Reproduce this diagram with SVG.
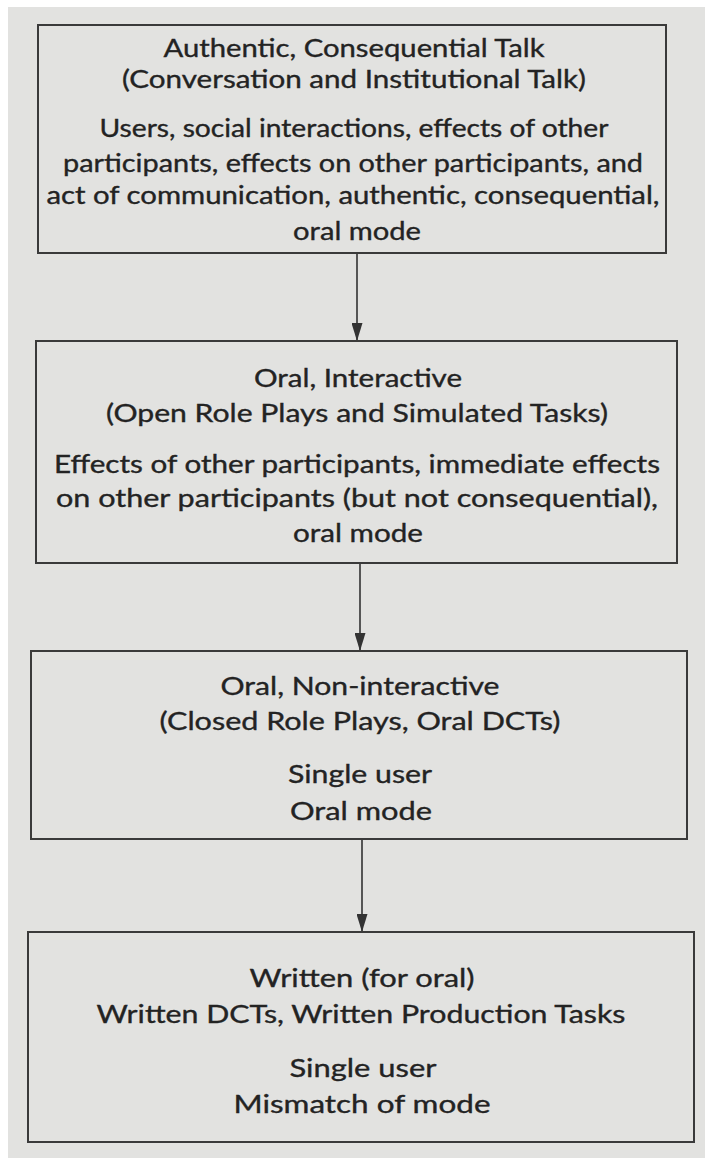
<svg xmlns="http://www.w3.org/2000/svg" width="705" height="1158" viewBox="0 0 705 1158">
<style>
.bg{fill:#e2e2e0}
.box{fill:none;stroke:#3a3a3a;stroke-width:2}
.t{font-family:Lato,"Open Sans","Liberation Sans",sans-serif;font-size:25px;fill:#232323;stroke:#232323;stroke-width:0.35;text-anchor:middle}
.c{stroke:#333;stroke-width:1.6;fill:none}
</style>
<defs>
<marker id="ah" markerUnits="userSpaceOnUse" markerWidth="18" markerHeight="11" refX="18" refY="5.5" orient="auto" viewBox="0 0 18 11">
<path d="M0,0 L18,5.5 L0,11 z" fill="#333"/>
</marker>
</defs>
<rect class="bg" x="0" y="0" width="705" height="1158"/>
<rect x="0" y="0" width="8" height="1158" fill="#ffffff"/>
<rect x="0" y="0" width="705" height="7" fill="#ffffff"/>
<g id="connectors">
<line class="c" x1="357" y1="253" x2="357" y2="341" marker-end="url(#ah)"/>
<line class="c" x1="360" y1="563" x2="360" y2="651" marker-end="url(#ah)"/>
<line class="c" x1="362" y1="839" x2="362" y2="932" marker-end="url(#ah)"/>
</g>
<g id="node1">
<rect class="box" x="38" y="25" width="628" height="228"/>
<text class="t" x="354" y="57" textLength="381" lengthAdjust="spacingAndGlyphs">Authentic, Consequential Talk</text>
<text class="t" x="354" y="88" textLength="464" lengthAdjust="spacingAndGlyphs">(Conversation and Institutional Talk)</text>
<text class="t" x="354" y="137" textLength="509" lengthAdjust="spacingAndGlyphs">Users, social interactions, effects of other</text>
<text class="t" x="353" y="172" textLength="580" lengthAdjust="spacingAndGlyphs">participants, effects on other participants, and</text>
<text class="t" x="353" y="204" textLength="613" lengthAdjust="spacingAndGlyphs">act of communication, authentic, consequential,</text>
<text class="t" x="357" y="240" textLength="128" lengthAdjust="spacingAndGlyphs">oral mode</text>
</g>
<g id="node2">
<rect class="box" x="36" y="341" width="641" height="222"/>
<text class="t" x="358" y="387" textLength="208" lengthAdjust="spacingAndGlyphs">Oral, Interactive</text>
<text class="t" x="357" y="422" textLength="502" lengthAdjust="spacingAndGlyphs">(Open Role Plays and Simulated Tasks)</text>
<text class="t" x="357" y="473" textLength="606" lengthAdjust="spacingAndGlyphs">Effects of other participants, immediate effects</text>
<text class="t" x="357" y="507" textLength="602" lengthAdjust="spacingAndGlyphs">on other participants (but not consequential),</text>
<text class="t" x="358" y="542" textLength="130" lengthAdjust="spacingAndGlyphs">oral mode</text>
</g>
<g id="node3">
<rect class="box" x="31" y="651" width="656" height="188"/>
<text class="t" x="360" y="695" textLength="279" lengthAdjust="spacingAndGlyphs">Oral, Non-interactive</text>
<text class="t" x="360" y="730" textLength="401" lengthAdjust="spacingAndGlyphs">(Closed Role Plays, Oral DCTs)</text>
<text class="t" x="360" y="783" textLength="144" lengthAdjust="spacingAndGlyphs">Single user</text>
<text class="t" x="361" y="820" textLength="142" lengthAdjust="spacingAndGlyphs">Oral mode</text>
</g>
<g id="node4">
<rect class="box" x="28" y="932" width="666" height="210"/>
<text class="t" x="362" y="987" textLength="225" lengthAdjust="spacingAndGlyphs">Written (for oral)</text>
<text class="t" x="361" y="1023" textLength="529" lengthAdjust="spacingAndGlyphs">Written DCTs, Written Production Tasks</text>
<text class="t" x="363" y="1077" textLength="147" lengthAdjust="spacingAndGlyphs">Single user</text>
<text class="t" x="362" y="1113" textLength="257" lengthAdjust="spacingAndGlyphs">Mismatch of mode</text>
</g>
</svg>
